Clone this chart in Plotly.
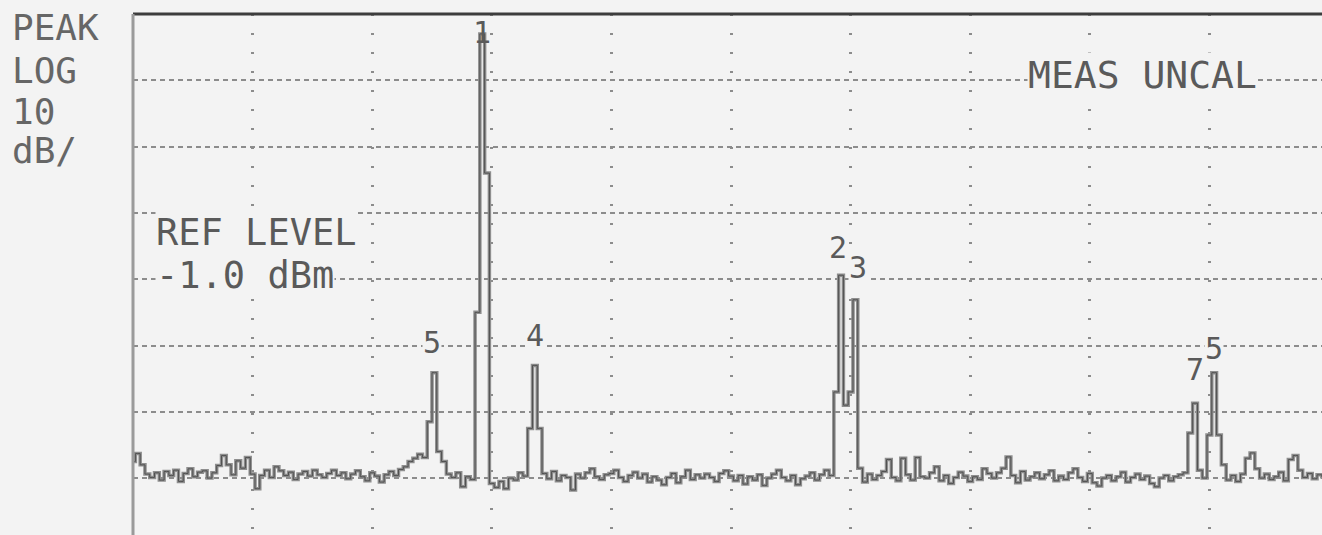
import numpy as np
import plotly.graph_objects as go

# ---- data -------------------------------------------------------------
ref_level_dbm = -1.0
db_per_div = 10
span_start, span_step = 0.0, 0.4   # sweep point spacing (display units, 10 units / div)

trace_dbm = [
    # 0-9
    -68.5, -67.3, -69.0, -70.4, -70.9, -70.2, -71.3, -70.0, -70.6, -69.8,
    # 10-19
    -71.5, -70.3, -69.6, -70.8, -70.1, -69.9, -71.0, -70.2, -69.1, -67.6,
    # 20-29
    -69.0, -70.5, -68.4, -69.5, -67.9, -70.4, -72.6, -70.6, -69.8, -70.9,
    # 30-39
    -69.3, -69.9, -70.6, -70.1, -71.2, -70.4, -70.0, -70.7, -69.8, -70.5,
    # 40-49
    -70.9, -70.3, -69.8, -70.6, -70.2, -71.1, -70.4, -69.9, -70.8, -71.4,
    # 50-59
    -70.2, -70.7, -71.6, -70.5, -70.0, -70.6, -69.7, -69.3, -68.5, -68.0,
    # 60-69
    -67.4, -67.9, -62.5, -55.1, -67.0, -68.5, -70.4, -70.9, -70.2, -72.3,
    # 70-79
    -70.8, -71.2, -46.0, -4.0, -25.0, -71.8, -72.4, -71.5, -72.6, -71.0,
    # 80-89
    -71.3, -70.2, -70.7, -63.5, -54.0, -63.5, -70.3, -71.1, -70.0, -71.4,
    # 90-99
    -70.6, -70.9, -72.8, -70.4, -71.0, -70.2, -69.6, -70.8, -71.2, -70.5,
    # 100-109
    -70.3, -69.8, -70.9, -71.5, -70.6, -70.1, -71.0, -70.4, -71.6, -70.8,
    # 110-119
    -71.3, -72.0, -70.9, -70.3, -71.7, -70.8, -69.8, -71.2, -70.5, -71.0,
    # 120-129
    -70.4, -70.9, -71.5, -70.3, -69.9, -70.7, -71.4, -70.6, -71.9, -70.8,
    # 130-139
    -71.3, -70.5, -72.1, -71.0, -70.4, -69.8, -70.9, -71.4, -70.6, -72.0,
    # 140-149
    -71.1, -70.7, -70.2, -71.3, -70.5, -69.8, -70.6, -58.0, -40.4, -60.0,
    # 150-159
    -58.0, -44.1, -69.5, -71.6, -70.4, -71.2, -70.6, -70.0, -68.2, -70.9,
    # 160-169
    -71.4, -68.0, -70.5, -71.3, -67.9, -70.8, -71.0, -70.2, -69.3, -71.4,
    # 170-179
    -70.6, -71.8, -70.9, -70.1, -70.7, -71.5, -70.8, -71.2, -69.6, -70.3,
    # 180-189
    -71.0, -70.2, -69.5, -67.8, -70.6, -71.7, -70.0, -71.3, -70.8, -70.2,
    # 190-199
    -71.1, -70.5, -69.9, -71.4, -70.7, -71.2, -70.2, -69.6, -70.9, -71.5,
    # 200-209
    -70.3, -71.7, -72.2, -71.0, -70.6, -71.4, -70.8, -70.1, -71.6, -70.9,
    # 210-219
    -70.4, -71.2, -70.7, -71.8, -72.3, -71.0, -70.6, -71.4, -70.8, -70.5,
    # 220-229
    -70.2, -64.2, -59.7, -69.8, -71.0, -64.5, -55.1, -64.5, -69.0, -71.3,
    # 230-239
    -70.6, -71.5, -70.4, -68.0, -67.2, -69.6, -71.0, -70.4, -71.2, -70.8,
    # 240-250
    -70.1, -71.4, -68.2, -67.6, -69.8, -70.9, -70.3, -71.1, -70.5, -70.8, -71.0,
]

marker_labels = ["5", "1", "4", "2", "3", "7", "5"]
marker_index = [63, 73, 84, 148, 151, 222, 226]

# ---- layout constants --------------------------------------------------
W, H = 1322, 535
ML, MT = 133, 14
plot_w, plot_h = W - ML, H - MT
div_px = 119.6
x_max = plot_w / div_px * 10
y_min = ref_level_dbm - plot_h / 66.3 * db_per_div

BG = "#f3f3f3"
TXT = "#5a5a5a"
FONT = "DejaVu Sans Mono"

freq = span_start + span_step * np.arange(len(trace_dbm))


def px2paper(px, py):
    return (px - ML) / plot_w, 1 - (py - MT) / plot_h


fig = go.Figure()
fig.add_trace(go.Scatter(
    x=freq, y=trace_dbm, mode="lines",
    line=dict(color="#8e8e8e", width=3.5, shape="hvh"),
    hoverinfo="skip", showlegend=False,
))
fig.add_trace(go.Scatter(
    x=freq, y=trace_dbm, mode="lines",
    line=dict(color="#505050", width=1, shape="hvh"),
    hoverinfo="skip", showlegend=False,
))

annotations = []
# left-side status text
for txt, py in [("PEAK", 27), ("LOG", 70), ("10", 111), ("dB/", 151)]:
    x, y = px2paper(10, py)
    annotations.append(dict(text=txt, x=x, y=y, xref="paper", yref="paper",
                            xanchor="left", yanchor="middle", showarrow=False,
                            font=dict(family=FONT, size=36, color="#666666")))
for txt, px, py, fs in [("REF LEVEL", 155, 232, 37), ("-1.0 dBm", 155, 275, 37),
                        ("MEAS UNCAL", 1027, 75, 38)]:
    x, y = px2paper(px, py)
    annotations.append(dict(text=txt, x=x, y=y, xref="paper", yref="paper",
                            xanchor="left", yanchor="middle", showarrow=False,
                            bgcolor=BG, borderpad=0,
                            font=dict(family=FONT, size=fs, color=TXT)))

label_shift = [30, 1, 30, 28, 32, 34, 24]
label_dx = [-2, 0, 0, -3, 3, 0, 0]
label_bg = [BG, "rgba(0,0,0,0)", BG, BG, BG, BG, BG]
for lab, idx, ys, dx, bg in zip(marker_labels, marker_index, label_shift, label_dx, label_bg):
    annotations.append(dict(text=lab, x=freq[idx], y=trace_dbm[idx], xref="x", yref="y",
                            xanchor="center", yanchor="middle", yshift=ys, xshift=dx,
                            showarrow=False, bgcolor=bg, borderpad=0,
                            font=dict(family=FONT, size=30, color=TXT)))

fig.update_layout(
    width=W, height=H,
    margin=dict(l=ML, r=0, t=MT, b=0, pad=0),
    paper_bgcolor=BG, plot_bgcolor=BG,
    showlegend=False,
    xaxis=dict(range=[0, x_max], dtick=10, tick0=0, showgrid=True,
               griddash="2px,17px", gridcolor="#8c8c8c", gridwidth=3,
               showticklabels=False, ticks="", zeroline=False, showline=False),
    yaxis=dict(range=[y_min, ref_level_dbm], dtick=db_per_div, tick0=ref_level_dbm,
               showgrid=True, griddash="5px,4px", gridcolor="#8c8c8c", gridwidth=1.5,
               showticklabels=False, ticks="", zeroline=False, showline=False),
    annotations=annotations,
    shapes=[
        dict(type="line", xref="paper", yref="paper", x0=0, x1=1, y0=1, y1=1,
             line=dict(color="#3c3c3c", width=3)),
        dict(type="line", xref="paper", yref="paper", x0=0, x1=0, y0=0, y1=1,
             line=dict(color="#9a9a9a", width=3)),
    ],
)

fig.write_html("out.html", config={"displayModeBar": False},
               post_script="document.body.style.margin='0';document.body.style.background='#f3f3f3';")
